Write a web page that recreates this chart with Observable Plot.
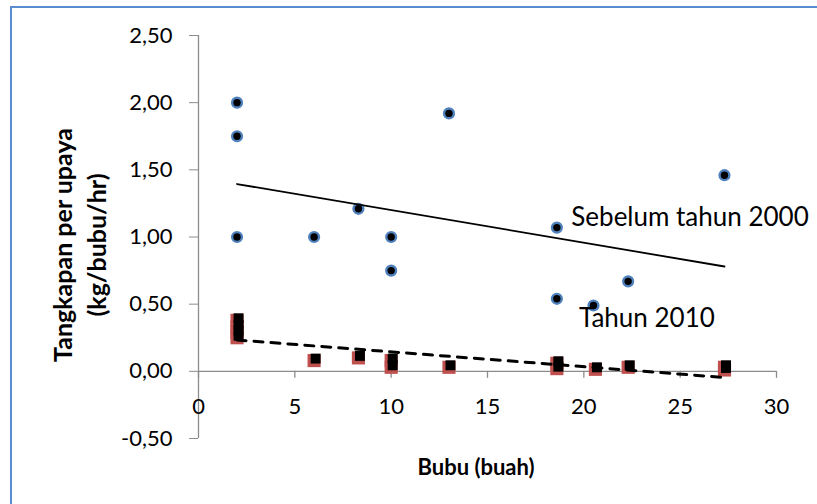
<!DOCTYPE html>
<html>
<head>
<meta charset="utf-8">
<script src="https://cdn.jsdelivr.net/npm/d3@7"></script>
<script src="https://cdn.jsdelivr.net/npm/@observablehq/plot@0.6"></script>
<style>
  html, body { margin: 0; padding: 0; background: #fff; }
  #wrap { position: relative; width: 817px; height: 504px; overflow: hidden; font-family: Lato, sans-serif; }
  #frame { position: absolute; left: 10px; top: 6px; width: 900px; height: 600px; border-left: 2px solid #5B8BD0; border-top: 2px solid #5B8BD0; box-sizing: border-box; }
  #chart { position: absolute; left: 0; top: 0; }
  .ytitle { position: absolute; font-weight: bold; font-size: 25px; white-space: nowrap; transform: translate(-50%, -50%) rotate(-90deg); line-height: 34px; text-align: center; }
  .xtitle { position: absolute; font-weight: bold; font-size: 22px; white-space: nowrap; transform: translate(-50%, -50%); }
</style>
</head>
<body>
<div id="wrap">
  <div id="frame"></div>
  <div id="chart"></div>
  <div class="ytitle" style="left:79px; top:245px;">Tangkapan per upaya<br>(kg/bubu/hr)</div>
  <div class="xtitle" style="left:476px; top:466px;">Bubu (buah)</div>
</div>
<script>
// Series "Sebelum tahun 2000" (before 2000)
const beforeX = [2, 2, 2, 6, 8.3, 10, 10, 13, 18.6, 18.6, 20.5, 22.3, 27.3];
const beforeY = [2.00, 1.75, 1.00, 1.00, 1.21, 1.00, 0.75, 1.92, 1.07, 0.54, 0.49, 0.67, 1.46];
// Series "Tahun 2010"
const y2010X = [2, 2, 2, 2, 6, 8.3, 10, 10, 13, 18.6, 18.6, 20.6, 22.3, 27.3, 27.3];
const y2010Y = [0.38, 0.33, 0.29, 0.25, 0.08, 0.10, 0.08, 0.03, 0.03, 0.06, 0.02, 0.015, 0.03, 0.03, 0.01];
// Axis ticks
const xTicks = [0, 5, 10, 15, 20, 25, 30];
const yTicks = [-0.5, 0, 0.5, 1.0, 1.5, 2.0, 2.5];
// Series labels
const seriesLabels = [
  {text: "Sebelum tahun 2000", x: 19.35, y: 1.144},
  {text: "Tahun 2010", x: 19.75, y: 0.394}
];

const before = beforeX.map((x, i) => ({x, y: beforeY[i]}));
const t2010 = y2010X.map((x, i) => ({x, y: y2010Y[i]}));
const gray = "#8c8c8c";
const fmt = d => d.toFixed(2).replace(".", ",");

const chart = Plot.plot({
  width: 817,
  height: 504,
  marginLeft: 198,
  marginRight: 41,
  marginTop: 35,
  marginBottom: 66,
  style: {fontFamily: "Lato, sans-serif", fontSize: "22px", background: "transparent", color: "black"},
  x: {domain: [0, 30], axis: null},
  y: {domain: [-0.5, 2.5], axis: null},
  marks: [
    Plot.ruleX([0], {stroke: gray, strokeWidth: 1.3}),
    Plot.ruleY([0], {stroke: gray, strokeWidth: 1.3}),
    Plot.axisY(yTicks, {tickSize: 9, tickPadding: 17, tickFormat: fmt, stroke: gray, fill: "black", fontSize: 22, label: null}),
    Plot.ruleX(xTicks, {x: d => d, y1: 0, y2: 0, insetBottom: -7, stroke: gray, strokeWidth: 1.3}),
    Plot.text(xTicks, {x: d => d, y: 0, dy: 36, text: d => String(d), fontSize: 22, fill: "black"}),
    Plot.dot(before, {x: "x", y: "y", r: 4.9, fill: "black", stroke: "#4F81BD", strokeWidth: 2.4}),
    Plot.dot(t2010, {x: "x", y: "y", symbol: "square", r: 7.4, fill: "#C0504D"}),
    Plot.dot(t2010, {x: "x", y: "y", symbol: "square", r: 5.6, fill: "black", dx: 1.5, dy: -2}),
    Plot.linearRegressionY(before, {x: "x", y: "y", ci: 0, stroke: "black", strokeWidth: 1.8}),
    Plot.linearRegressionY(t2010, {x: "x", y: "y", ci: 0, stroke: "black", strokeWidth: 3, strokeDasharray: "9,8"}),
    Plot.text(seriesLabels, {x: "x", y: "y", text: "text", textAnchor: "start", fontSize: 26, fill: "black"})
  ]
});
document.getElementById("chart").appendChild(chart);
</script>
</body>
</html>
